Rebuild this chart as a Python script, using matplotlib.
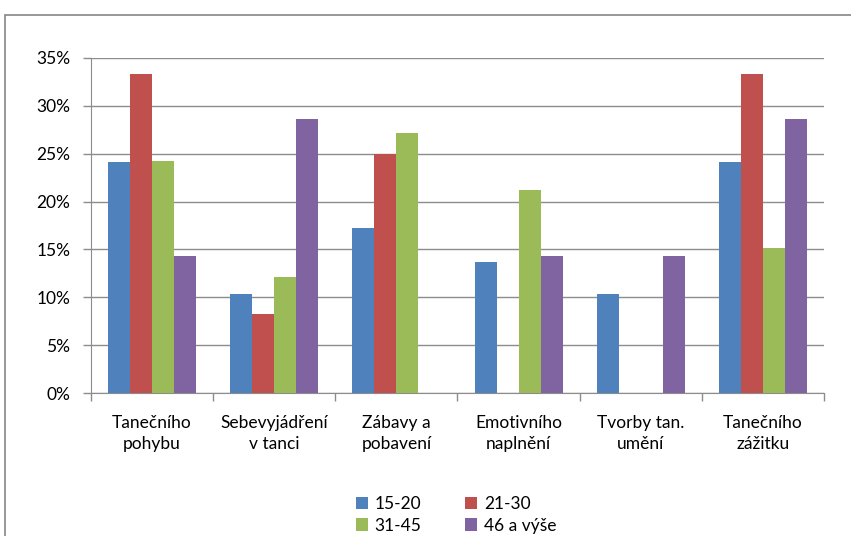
import matplotlib
matplotlib.use("Agg")
import matplotlib.pyplot as plt
import numpy as np
from matplotlib.patches import Rectangle
from matplotlib import font_manager

categories = ["Tanečního\npohybu", "Sebevyjádření\nv tanci", "Zábavy a\npobavení",
              "Emotivního\nnaplnění", "Tvorby tan.\numění", "Tanečního\nzážitku"]
series_names = ["15-20", "21-30", "31-45", "46 a výše"]
s15_20 = [24.1, 10.3, 17.2, 13.7, 10.3, 24.1]
s21_30 = [33.3, 8.3, 25.0, 0.0, 0.0, 33.3]
s31_45 = [24.2, 12.1, 27.2, 21.2, 0.0, 15.1]
s46 = [14.3, 28.6, 0.0, 14.3, 14.3, 28.6]
yticks = [0, 5, 10, 15, 20, 25, 30, 35]
colors = ["#4F81BD", "#C0504D", "#9BBB59", "#8064A2"]

names = {f.name for f in font_manager.fontManager.ttflist}
fam = "Lato" if "Lato" in names else "DejaVu Sans"
plt.rcParams['font.family'] = [fam, 'DejaVu Sans']
FS = 12.5

W, H = 851, 536
fig = plt.figure(figsize=(W / 100, H / 100), dpi=100)
fig.patches.append(Rectangle((5 / W, -0.2), 1.2, 1.2 - 15 / H, transform=fig.transFigure,
                             fill=False, edgecolor="#868686", lw=1.2, clip_on=False))
ax = fig.add_axes([91 / W, (H - 393) / H, (824 - 91) / W, 335 / H])

x = np.arange(len(categories))
bw = 0.18
data = [s15_20, s21_30, s31_45, s46]
handles = []
for i, (vals, c, n) in enumerate(zip(data, colors, series_names)):
    h = ax.bar(x + (i - 1.5) * bw, vals, width=bw, color=c, label=n, zorder=3)
    handles.append(h)

ax.set_xlim(-0.5, len(categories) - 0.5)
ax.set_ylim(0, 35)
ax.set_yticks(yticks)
ax.set_yticklabels([f"{v}%" for v in yticks], fontsize=FS)
ax.yaxis.grid(True, color="#8C8C8C", lw=1, zorder=0)
ax.set_xticks(x)
ax.set_xticklabels(categories, fontsize=FS, linespacing=1.4)
ax.set_xticks(np.arange(len(categories) + 1) - 0.5, minor=True)
ax.tick_params(axis='x', which='major', length=0, pad=16)
ax.tick_params(axis='x', which='minor', length=6, color="#8C8C8C", width=1)
ax.tick_params(axis='y', length=6, color="#8C8C8C", width=1, pad=9)
for s in ["top", "right"]:
    ax.spines[s].set_visible(False)
for s in ["left", "bottom"]:
    ax.spines[s].set_color("#8C8C8C")

order = [0, 2, 1, 3]
leg = fig.legend([handles[i] for i in order], [series_names[i] for i in order],
                 loc="center", bbox_to_anchor=(456 / W, 1 - 515 / H), ncol=2,
                 frameon=False, fontsize=FS, handlelength=0.7, handleheight=0.7,
                 columnspacing=2.5, handletextpad=0.4, labelspacing=0.3)

fig.savefig("out.png", dpi=100)
